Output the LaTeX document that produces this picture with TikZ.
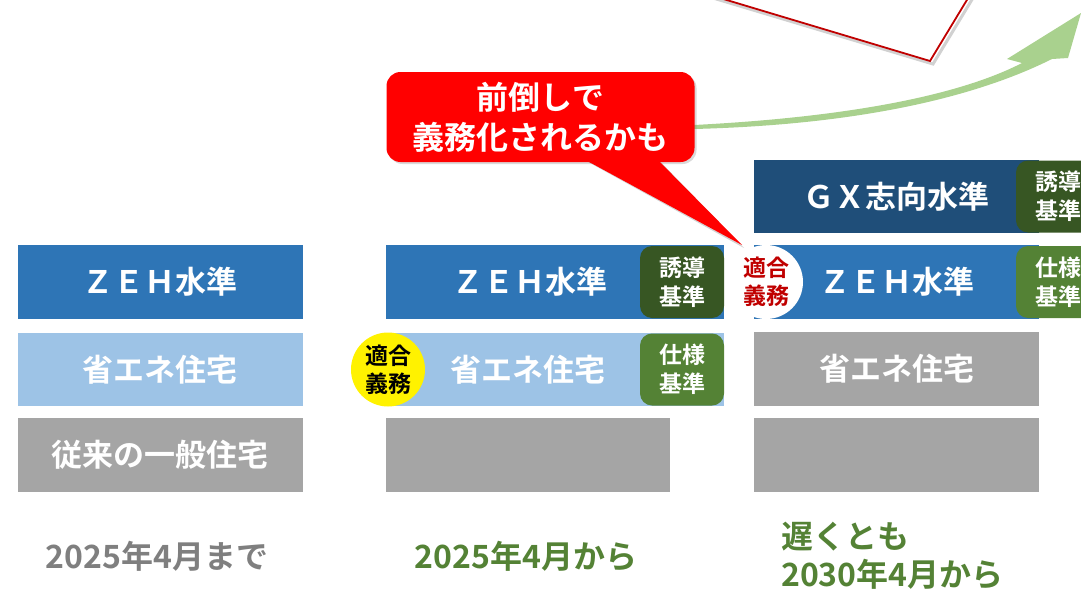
\documentclass[tikz,border=0pt]{standalone}
\usepackage{fontspec}
\setmainfont{Noto Sans CJK JP}[BoldFont={* Bold}]
\usetikzlibrary{shadows}
\definecolor{zeh}{HTML}{2E75B6}
\definecolor{lblue}{HTML}{9DC3E6}
\definecolor{gbox}{HTML}{A5A5A5}
\definecolor{navy}{HTML}{1F4E79}
\definecolor{dgreen}{HTML}{375623}
\definecolor{mgreen}{HTML}{548235}
\definecolor{agreen}{HTML}{A9D18E}
\definecolor{dred}{HTML}{C00000}
\definecolor{tgray}{HTML}{7F7F7F}
\definecolor{cred}{HTML}{FF0000}
\begin{document}
\begin{tikzpicture}[x=1pt,y=-1pt,
  bar/.style={rectangle, inner sep=0pt, minimum width=285pt, minimum height=74pt, text=white, font=\fontsize{31}{36}\selectfont\bfseries},
  lbl/.style={inner sep=0pt, text=white, font=\fontsize{31}{36}\selectfont\bfseries},
  badge/.style={rectangle, rounded corners=12pt, inner sep=0pt, minimum width=84pt, minimum height=72pt, text=white, align=center, font=\fontsize{23}{29}\selectfont\bfseries},
  seal/.style={circle, inner sep=0pt, minimum size=74pt, align=center, font=\fontsize{23}{28}\selectfont\bfseries},
  yearlbl/.style={inner sep=0pt, font=\fontsize{32}{38}\selectfont\bfseries, align=left},
  callout/.style={rectangle, rounded corners=14pt, fill=cred, minimum width=308pt, minimum height=90pt, inner sep=0pt, text=white, align=center, font=\fontsize{31}{40}\selectfont\bfseries}
]
\useasboundingbox (0,0) rectangle (1081,589);
\clip (0,0) rectangle (1081,589);

% top white callout (cut by the page edge)
\draw[black!30, line width=3, opacity=0.6] (663,-17) -- (933,64) -- (982,-17);
\filldraw[fill=white, draw=dred, line width=1.8] (660,-20) -- (930,61) -- (979,-20) -- cycle;

% column 1
\node[bar, fill=zeh] (z1) at (160,282) {ＺＥＨ水準};
\node[bar, fill=lblue, minimum height=73pt] (s1) at (160,369.5) {省エネ住宅};
\node[bar, fill=gbox] (j1) at (160,455) {従来の一般住宅};

% column 2
\node[bar, fill=zeh, minimum width=338pt] (z2) at (555,282) {};
\node[lbl] (z2t) at (530,282) {ＺＥＨ水準};
\node[badge, fill=dgreen] (b2a) at (682,282) {誘導\\基準};
\node[bar, fill=lblue, minimum width=338pt, minimum height=73pt] (s2) at (555,369.5) {};
\node[lbl] (s2t) at (528,369.5) {省エネ住宅};
\node[badge, fill=mgreen] (b2b) at (682,369.5) {仕様\\基準};
\node[seal, fill=yellow, text=black] (c2) at (388,369.5) {適合\\義務};
\node[bar, fill=gbox, minimum width=284pt] (g2) at (528,455) {};

% column 3
\node[bar, fill=navy, minimum height=73pt] (gx3) at (896.5,196.5) {ＧＸ志向水準};
\node[badge, fill=dgreen] (b3a) at (1058,196.5) {誘導\\基準};
\node[bar, fill=zeh] (z3) at (896.5,282) {ＺＥＨ水準};
\node[badge, fill=mgreen] (b3b) at (1058,282) {仕様\\基準};
\node[seal, fill=white, text=dred] (c3) at (766,282) {適合\\義務};
\node[bar, fill=gbox, minimum height=74pt] (s3) at (896.5,369) {省エネ住宅};
\node[bar, fill=gbox] (g3) at (896.5,455) {};

% green tapered arrow
\coordinate (astart) at (694,127);
\fill[agreen] (694,125) .. controls (850,117) and (960,95) .. (1022,63) -- (1007,59) -- (1081,13) -- (1068,58) -- (1052,59) .. controls (970,100) and (850,125) .. (694,129) -- cycle;

% red callout
\coordinate (tip) at (742,245);
\fill[black!35, opacity=0.5] (570,152) -- (744,248) -- (651,152) -- cycle;
\node[callout, drop shadow={opacity=0.3, shadow xshift=2pt, shadow yshift=-2pt}] (call) at (540.5,117) {};
\fill[cred] (567,150) -- (tip) -- (648,150) -- cycle;
\node[callout, fill=none, font=\fontsize{32}{40}\selectfont\bfseries] (callt) at (540.5,117) {前倒しで\\義務化されるかも};

% bottom labels
\node[yearlbl, text=tgray] (y1) at (157,556) {2025年4月まで};
\node[yearlbl, text=mgreen] (y2) at (526,556) {2025年4月から};
\node[yearlbl, text=mgreen, anchor=west] (y3) at (781,556) {遅くとも\\2030年4月から};
\end{tikzpicture}
\end{document}
